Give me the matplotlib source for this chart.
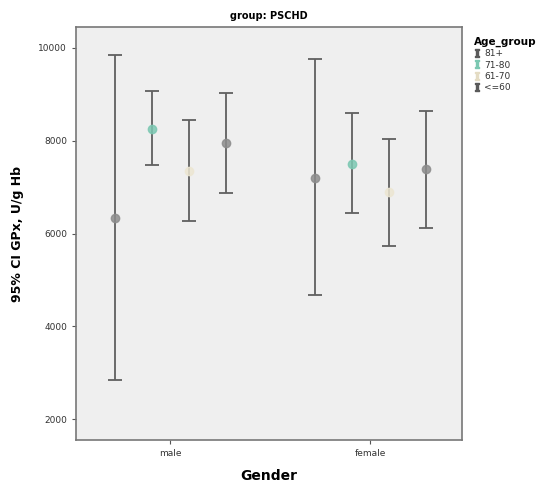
import matplotlib.pyplot as plt
from matplotlib.lines import Line2D
import numpy as np

genders = ["male", "female"]
age_groups = ["81+", "71-80", "61-70", "<=60"]

# mean, lower, upper per age group, one value per gender (male, female)
means = {
    "81+": [6340, 7200],
    "71-80": [8260, 7500],
    "61-70": [7350, 6900],
    "<=60": [7960, 7380],
}
lower = {
    "81+": [2840, 4670],
    "71-80": [7480, 6450],
    "61-70": [6260, 5740],
    "<=60": [6880, 6110],
}
upper = {
    "81+": [9850, 9760],
    "71-80": [9070, 8600],
    "61-70": [8450, 8040],
    "<=60": [9030, 8640],
}

marker_colors = {"81+": "#8c8c8c", "71-80": "#7cc8b2", "61-70": "#ece6d2", "<=60": "#8c8c8c"}
legend_colors = {"81+": "#5a5a5a", "71-80": "#7cc8b2", "61-70": "#e4dcc4", "<=60": "#5a5a5a"}
offsets = [-0.2775, -0.0925, 0.0925, 0.2775]

fig = plt.figure(figsize=(5.41, 4.83), dpi=100)
ax = fig.add_axes([0.1405, 0.089, 0.714, 0.855])
ax.set_facecolor("#efefef")

x = np.arange(1, len(genders) + 1)
for i, g in enumerate(age_groups):
    m = np.array(means[g])
    lo = m - np.array(lower[g])
    hi = np.array(upper[g]) - m
    ax.errorbar(x + offsets[i], m, yerr=[lo, hi], fmt="none", ecolor="#606060",
                elinewidth=1.3, capsize=5, capthick=1.3)
    ax.plot(x + offsets[i], m, "o", ms=6, mfc=marker_colors[g], mec=marker_colors[g],
            alpha=0.85, zorder=3)

ax.set_xlim(0.53, 2.46)
ax.set_ylim(1550, 10450)
ax.set_xticks(x)
ax.set_xticklabels(genders, fontsize=6.5, color="#333333")
ax.set_yticks([2000, 4000, 6000, 8000, 10000])
ax.set_yticklabels(["2000", "4000", "6000", "8000", "10000"], fontsize=6.5, color="#333333")
ax.tick_params(length=3, width=0.8, color="#555555")
for s in ax.spines.values():
    s.set_color("#777777")
    s.set_linewidth(1.2)

ax.set_xlabel("Gender", fontsize=10, fontweight="bold", labelpad=8)
ax.set_ylabel("95% CI GPx, U/g Hb", fontsize=9, fontweight="bold", labelpad=10)
ax.set_title("group: PSCHD", fontsize=7, fontweight="bold", pad=6)

handles = [Line2D([], [], ls="none", marker=r"$\mathtt{I}$", ms=6, color=legend_colors[g])
           for g in age_groups]
leg = ax.legend(handles, age_groups, title="Age_group", loc="upper left",
                bbox_to_anchor=(1.02, 0.985), frameon=False, fontsize=6.5,
                title_fontproperties={"size": 7.5, "weight": "bold"},
                handlelength=0.8, handletextpad=0.4, labelspacing=0.25, borderaxespad=0)
leg._legend_box.align = "left"
for txt in leg.get_texts():
    txt.set_color("#333333")

fig.savefig("out.png", dpi=100)
